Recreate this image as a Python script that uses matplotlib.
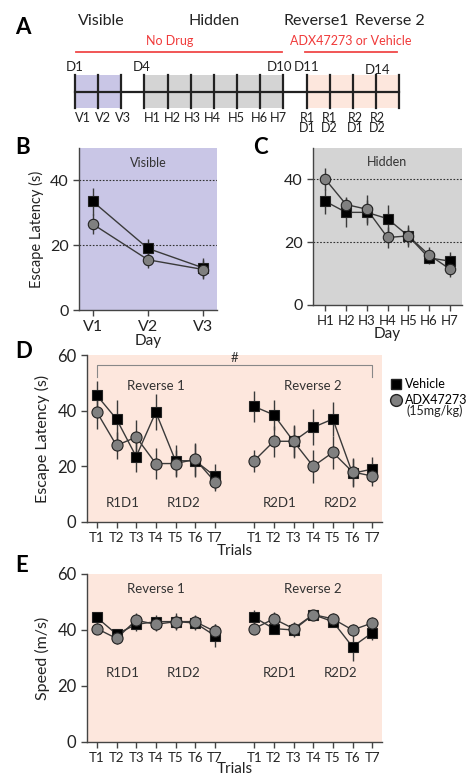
import numpy as np
import matplotlib
matplotlib.use("Agg")
import matplotlib.pyplot as plt
from matplotlib.lines import Line2D

plt.rcParams['font.family'] = ['Lato', 'DejaVu Sans']

# colores de fondo y marcadores
c_vis = '#c9c6e6'
c_hid = '#d4d4d4'
c_rev = '#fde7dd'
c_line = '#3a3a3a'
c_adx = '#808080'

# --- Panel A: esquema de los dias ---
top_labels = ['Visible', 'Hidden', 'Reverse1', 'Reverse 2']
top_x = [2.15, 7.0, 11.4, 14.6]
day_labels = ['D1', 'D4', 'D10', 'D11', 'D14']
day_x = [1.0, 3.9, 9.85, 11.0, 14.05]
vis_days = [1, 2, 3]
hid_days = [4, 5, 6, 7, 8, 9, 10]
rev_days = [11, 12, 13, 14, 15]
vis_labels = ['V1', 'V2', 'V3']
vis_lx = [1.35, 2.22, 3.05]
hid_labels = ['H1', 'H2', 'H3', 'H4', 'H5', 'H6', 'H7']
hid_lx = [4.35, 5.2, 6.05, 6.95, 7.95, 8.95, 9.8]
rev_labels = ['R1\nD1', 'R1\nD2', 'R2\nD1', 'R2\nD2']
rev_lx = [11.05, 12.0, 13.1, 14.05]

# --- Panel B: Visible ---
vis_ticks = ['V1', 'V2', 'V3']
vis_veh = [33.5, 19.0, 13.0]
vis_veh_err = [4.3, 3.0, 3.0]
vis_adx = [26.5, 15.5, 12.5]
vis_adx_err = [3.0, 2.5, 2.8]

# --- Panel C: Hidden ---
hid_ticks = ['H1', 'H2', 'H3', 'H4', 'H5', 'H6', 'H7']
hid_veh = [33.0, 29.5, 29.5, 27.5, 22.0, 15.0, 14.0]
hid_veh_err = [4.0, 4.5, 4.0, 4.5, 3.0, 2.0, 3.0]
hid_adx = [40.0, 32.0, 30.5, 21.5, 22.0, 16.0, 11.5]
hid_adx_err = [3.5, 2.5, 4.5, 3.5, 3.5, 2.5, 2.5]

# --- Panel D: Escape latency reverse ---
trial_ticks = ['T1', 'T2', 'T3', 'T4', 'T5', 'T6', 'T7']
r1_veh = [45.5, 37.0, 23.5, 39.5, 22.0, 22.0, 16.5]
r1_veh_err = [5.0, 7.0, 5.5, 6.5, 5.5, 6.0, 4.5]
r2_veh = [41.5, 38.5, 29.0, 34.0, 37.0, 17.5, 19.0]
r2_veh_err = [5.5, 5.5, 6.0, 6.5, 6.0, 5.0, 4.5]
r1_adx = [39.5, 27.5, 30.5, 21.0, 21.0, 22.5, 14.5]
r1_adx_err = [6.0, 5.0, 6.0, 5.5, 5.0, 6.0, 3.5]
r2_adx = [22.0, 29.0, 29.0, 20.0, 25.0, 18.0, 16.5]
r2_adx_err = [4.0, 5.5, 5.5, 6.0, 6.0, 5.0, 3.5]

# --- Panel E: velocidad ---
sp1_veh = [44.5, 38.5, 42.0, 43.0, 43.0, 42.5, 38.0]
sp1_veh_err = [2.0, 2.0, 2.5, 2.5, 2.5, 2.5, 4.0]
sp2_veh = [44.5, 40.5, 40.0, 45.5, 43.0, 34.0, 39.0]
sp2_veh_err = [2.5, 2.0, 2.5, 1.5, 2.0, 5.0, 2.5]
sp1_adx = [40.5, 37.0, 43.5, 42.0, 43.0, 43.0, 39.5]
sp1_adx_err = [2.0, 2.0, 2.5, 2.5, 3.0, 2.5, 2.5]
sp2_adx = [40.5, 44.0, 40.5, 45.5, 44.0, 40.0, 42.5]
sp2_adx_err = [2.0, 2.5, 2.5, 1.5, 2.0, 2.0, 2.0]

fig = plt.figure(figsize=(4.67, 7.75), dpi=100)
W, H = 467.0, 775.0


def px_axes(l, t, r, b):
    return fig.add_axes([l / W, 1 - b / H, (r - l) / W, (b - t) / H])


def estilo(ax):
    for s in ['top', 'right']:
        ax.spines[s].set_visible(False)
    for s in ['left', 'bottom']:
        ax.spines[s].set_color('#444444')
        ax.spines[s].set_linewidth(1.0)
    ax.tick_params(direction='out', length=4, width=1.0, color='#444444',
                   labelcolor='#222222')


def serie(ax, x, y, e, marker, mfc, ms):
    ax.errorbar(x, y, yerr=e, fmt='none', ecolor=c_line, elinewidth=1.0, capsize=0, zorder=2)
    ax.plot(x, y, '-', color=c_line, lw=1.0, zorder=3)
    ax.plot(x, y, marker, ms=ms, mfc=mfc, mec='#222222', mew=0.8, ls='none', zorder=4)


# ---------- A ----------
axA = px_axes(0, 0, W, 135)
px_day = 23.15
axA.set_xlim(1 - 75 / px_day, 1 + (W - 75) / px_day)
axA.set_ylim(135, 0)
axA.axis('off')
axA.axvspan(vis_days[0], vis_days[-1], ymin=(135 - 108) / 135, ymax=(135 - 75) / 135, color=c_vis, lw=0)
axA.axvspan(hid_days[0], hid_days[-1], ymin=(135 - 108) / 135, ymax=(135 - 75) / 135, color=c_hid, lw=0)
axA.axvspan(rev_days[0], rev_days[-1], ymin=(135 - 108) / 135, ymax=(135 - 75) / 135, color=c_rev, lw=0)
axA.plot([vis_days[0], rev_days[-1]], [92, 92], color='#222222', lw=1.6)
for d in vis_days + hid_days + rev_days:
    axA.plot([d, d], [75, 108], color='#222222', lw=1.6)
for t, x in zip(top_labels, top_x):
    axA.text(x, 21, t, ha='center', va='center', fontsize=11.5, color='#222222')
axA.text(5.1, 41, 'No Drug', ha='center', va='center', fontsize=9, color='#f03a3a')
axA.text(12.9, 41, 'ADX47273 or Vehicle', ha='center', va='center', fontsize=9, color='#f03a3a')
axA.plot([1.05, 9.95], [52, 52], color='#f04848', lw=1.3)
axA.plot([10.95, 14.9], [52, 52], color='#f04848', lw=1.3)
for t, x in zip(day_labels, day_x):
    axA.text(x, 67 if t != 'D14' else 70, t, ha='center', va='center', fontsize=9.5, color='#222222')
for t, x in zip(vis_labels + hid_labels, vis_lx + hid_lx):
    axA.text(x, 118, t, ha='center', va='center', fontsize=9.2, color='#222222')
for t, x in zip(rev_labels, rev_lx):
    axA.text(x, 123, t, ha='center', va='center', fontsize=9, color='#222222', linespacing=0.9)
fig.text(15 / W, 1 - 28 / H, 'A', fontsize=16, fontweight='bold', va='center')

# ---------- B ----------
axB = px_axes(79, 148, 217, 310)
estilo(axB)
axB.set_facecolor(c_vis)
xb = np.arange(len(vis_ticks))
for yv in [20, 40]:
    axB.axhline(yv, color='#333333', ls=(0, (1.5, 1.5)), lw=0.8, zorder=1)
serie(axB, xb, vis_veh, vis_veh_err, 's', 'black', 7)
serie(axB, xb, vis_adx, vis_adx_err, 'o', c_adx, 7.5)
axB.set_xlim(-0.25, 2.25)
axB.set_ylim(0, 50)
axB.set_yticks([0, 20, 40])
axB.set_xticks(xb)
axB.set_xticklabels(vis_ticks)
axB.tick_params(labelsize=11.5)
axB.text(1, 45.5, 'Visible', ha='center', va='center', fontsize=9, color='#333333')
axB.set_ylabel('Escape Latency (s)', fontsize=10.5, color='#222222', labelpad=4)
axB.set_xlabel('Day', fontsize=11, color='#222222', labelpad=0)
fig.text(15 / W, 1 - 148 / H, 'B', fontsize=16, fontweight='bold', va='center')

# ---------- C ----------
axC = px_axes(313, 148, 462, 305)
estilo(axC)
axC.set_facecolor(c_hid)
xc = np.arange(len(hid_ticks))
for yv in [20, 40]:
    axC.axhline(yv, color='#333333', ls=(0, (1.5, 1.5)), lw=0.8, zorder=1)
serie(axC, xc, hid_veh, hid_veh_err, 's', 'black', 7)
serie(axC, xc, hid_adx, hid_adx_err, 'o', c_adx, 7.5)
axC.set_xlim(-0.6, 6.6)
axC.set_ylim(0, 50)
axC.set_yticks([0, 20, 40])
axC.set_xticks(xc)
axC.set_xticklabels(hid_ticks)
axC.tick_params(axis='y', labelsize=11.5)
axC.tick_params(axis='x', labelsize=9.5)
axC.text(3, 45.5, 'Hidden', ha='center', va='center', fontsize=9, color='#333333')
axC.set_xlabel('Day', fontsize=11, color='#222222', labelpad=-0.5)
fig.text(253 / W, 1 - 148 / H, 'C', fontsize=16, fontweight='bold', va='center')

# ---------- D y E ----------
x1 = np.arange(7)
x2 = np.arange(7) + 8
xt = np.concatenate([x1, x2])


def panel_rev(ax, v1, ve1, v2, ve2, a1, ae1, a2, ae2, ylabel, ytxt, rtxt, xpad):
    estilo(ax)
    ax.set_facecolor(c_rev)
    serie(ax, x1, v1, ve1, 's', 'black', 7)
    serie(ax, x1, a1, ae1, 'o', c_adx, 8)
    serie(ax, x2, v2, ve2, 's', 'black', 7)
    serie(ax, x2, a2, ae2, 'o', c_adx, 8)
    ax.set_xlim(-0.5, 14.5)
    ax.set_ylim(0, 60)
    ax.set_yticks([0, 20, 40, 60])
    ax.set_xticks(xt)
    ax.set_xticklabels(trial_ticks * 2)
    ax.tick_params(axis='y', labelsize=12)
    ax.tick_params(axis='x', labelsize=9.5)
    ax.set_ylabel(ylabel, fontsize=11.5, color='#222222', labelpad=5)
    ax.set_xlabel('Trials', fontsize=11, color='#222222', labelpad=xpad)
    ax.text(3, rtxt, 'Reverse 1', ha='center', va='center', fontsize=9.5, color='#333333')
    ax.text(11, rtxt, 'Reverse 2', ha='center', va='center', fontsize=9.5, color='#333333')
    for t, x in zip(['R1D1', 'R1D2', 'R2D1', 'R2D2'], [1.3, 4.4, 9.3, 12.4]):
        ax.text(x, ytxt, t, ha='center', va='center', fontsize=9.5, color='#333333')


axD = px_axes(87, 355, 382, 522)
panel_rev(axD, r1_veh, r1_veh_err, r2_veh, r2_veh_err, r1_adx, r1_adx_err, r2_adx, r2_adx_err,
          'Escape Latency (s)', 6.8, 49, 0)
axD.plot([0, 0, 14, 14], [52, 56.4, 56.4, 52], color='#888888', lw=0.8, zorder=1)
axD.text(7, 56.6, '#', ha='center', va='bottom', fontsize=9.5, color='#333333')
hands = [Line2D([], [], marker='s', ls='none', ms=7.5, mfc='black', mec='#222222'),
         Line2D([], [], marker='o', ls='none', ms=8.5, mfc=c_adx, mec='#222222')]
axD.legend(hands, ['Vehicle', 'ADX47273'], loc='upper left', bbox_to_anchor=(1.01, 0.89),
           frameon=False, fontsize=9, handletextpad=0.3, borderaxespad=0, labelspacing=0.3,
           handlelength=0.9)
axD.text(1.082, 0.665, '(15mg/kg)', transform=axD.transAxes, fontsize=9, color='#222222',
         ha='left', va='center')
fig.text(15 / W, 1 - 352 / H, 'D', fontsize=16, fontweight='bold', va='center')

axE = px_axes(87, 574, 382, 742)
panel_rev(axE, sp1_veh, sp1_veh_err, sp2_veh, sp2_veh_err, sp1_adx, sp1_adx_err, sp2_adx, sp2_adx_err,
          'Speed (m/s)', 24.6, 54.6, -2)
fig.text(15 / W, 1 - 565 / H, 'E', fontsize=16, fontweight='bold', va='center')

fig.savefig('out.png', dpi=100)
